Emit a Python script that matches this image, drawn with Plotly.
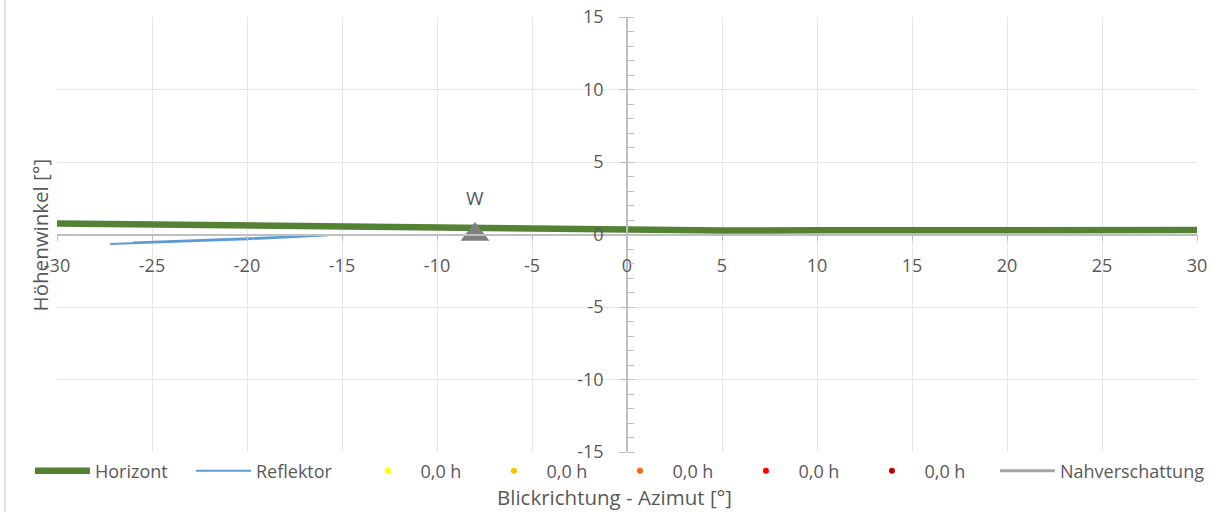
import plotly.graph_objects as go

# --- data ---
horizont_az = [-30, -25, -20, -15, -9.7, -6.3, -3, 0, 2, 5, 10, 15, 20, 25, 30]
horizont_el = [0.76, 0.70, 0.64, 0.58, 0.51, 0.46, 0.39, 0.33, 0.27, 0.28, 0.29, 0.30, 0.31, 0.31, 0.31]

reflektor_az = [-27.2, -25.0, -22.6, -20.0, -15.7, -20.0, -22.6, -25.0, -26.0]
reflektor_el = [-0.66, -0.55, -0.48, -0.33, -0.05, -0.27, -0.38, -0.50, -0.55]

marker_az = [-8]
marker_el = [0]
marker_label = ["W"]

sun_names = ["0,0 h", "0,0 h", "0,0 h", "0,0 h", "0,0 h"]
sun_colors = ["#FFFF00", "#FFC000", "#FF6600", "#FF0000", "#C00000"]

x_ticks = [-30, -25, -20, -15, -10, -5, 0, 5, 10, 15, 20, 25, 30]
y_ticks = [-15, -10, -5, 0, 5, 10, 15]

FONT = "Open Sans"
TXT = "#595959"

fig = go.Figure()

fig.add_trace(go.Scatter(x=horizont_az, y=horizont_el, mode="lines", name="Horizont",
                         line=dict(color="#548235", width=6.5), legend="legend"))
fig.add_trace(go.Scatter(x=reflektor_az, y=reflektor_el, mode="lines", name="Reflektor",
                         line=dict(color="#5B9BD5", width=2), legend="legend"))
for n, c in zip(sun_names, sun_colors):
    fig.add_trace(go.Scatter(x=[None], y=[None], mode="markers", name=n,
                             marker=dict(color=c, size=6), legend="legend2"))
fig.add_trace(go.Scatter(x=[None], y=[None], mode="lines", name="Nahverschattung",
                         line=dict(color="#A5A5A5", width=3), legend="legend3"))
fig.add_trace(go.Scatter(x=marker_az, y=marker_el, mode="markers", showlegend=False,
                         marker=dict(symbol="triangle-up", size=25, color="#7F7F7F")))

fig.add_annotation(x=marker_az[0], y=2.5, text=marker_label[0], showarrow=False,
                   xref="x", yref="y", font=dict(family=FONT, size=19, color=TXT),
                   bgcolor="white")

leg_common = dict(orientation="h", y=-0.0437, yanchor="middle", xanchor="left",
                  entrywidthmode="pixels", itemwidth=55,
                  font=dict(family=FONT, size=18, color=TXT), bgcolor="rgba(0,0,0,0)")

fig.update_layout(
    width=1222, height=512,
    margin=dict(l=57, r=25, t=17, b=60, autoexpand=False),
    paper_bgcolor="white", plot_bgcolor="white",
    font=dict(family=FONT, size=18, color=TXT),
    xaxis=dict(range=[-30, 30], tickvals=x_ticks, ticktext=[str(v) for v in x_ticks],
               anchor="free", position=0.5, automargin=False,
               showline=True, linecolor="#BFBFBF", linewidth=1.5,
               showgrid=True, gridcolor="#E6E6E6", zeroline=False,
               ticks="outside", ticklen=6, tickcolor="#BFBFBF",
               ticklabelstandoff=9, tickfont=dict(family=FONT, size=18, color=TXT)),
    yaxis=dict(range=[-15, 15], tickvals=y_ticks, ticktext=[str(v) for v in y_ticks],
               anchor="free", position=0.5, automargin=False,
               showline=True, linecolor="#BFBFBF", linewidth=1.5,
               showgrid=True, gridcolor="#E6E6E6", zeroline=False,
               ticks="outside", ticklen=7, tickcolor="#BFBFBF",
               minor=dict(ticks="inside", dtick=1, ticklen=6, tickcolor="#BFBFBF", showgrid=False),
               ticklabelstandoff=12, tickfont=dict(family=FONT, size=18, color=TXT)),
    legend=dict(leg_common, x=-0.0237, entrywidth=91),
    legend2=dict(leg_common, x=0.2618, entrywidth=56),
    legend3=dict(leg_common, x=0.8228),
    showlegend=True,
)

fig.add_annotation(text="Blickrichtung - Azimut [°]", x=0.4886, y=-0.1034, xref="paper", yref="paper",
                   showarrow=False, xanchor="center", yanchor="middle",
                   font=dict(family=FONT, size=20.5, color=TXT))
fig.add_annotation(text="Höhenwinkel [°]", x=-0.015, y=0.5, xref="paper", yref="paper",
                   showarrow=False, textangle=-90, xanchor="center", yanchor="middle",
                   font=dict(family=FONT, size=20.5, color=TXT))

fig.add_shape(type="line", xref="paper", yref="paper", x0=-0.0456, x1=-0.0456, y0=-0.2, y1=1.1,
              line=dict(color="#D9D9D9", width=1.5))

fig.write_html("out.html", config={"displayModeBar": False},
               post_script="document.body.style.margin='0';document.body.style.overflow='hidden';")
